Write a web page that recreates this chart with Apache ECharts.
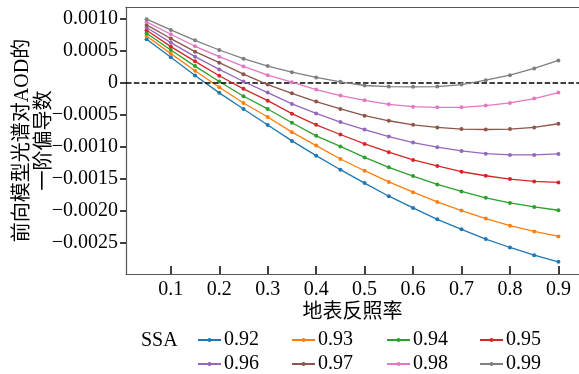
<!DOCTYPE html>
<html>
<head>
<meta charset="utf-8">
<script src="https://cdn.jsdelivr.net/npm/echarts@6/dist/echarts.min.js"></script>
<style>
  html, body { margin: 0; padding: 0; background: #fff; }
  #chart { width: 579px; height: 374px; }
</style>
</head>
<body>
<div id="chart"></div>
<script>
// surface albedo (x) and first derivative of forward model spectrum w.r.t. AOD, per SSA
const albedo = [0.05, 0.1, 0.15, 0.2, 0.25, 0.3, 0.35, 0.4, 0.45, 0.5, 0.55, 0.6, 0.65, 0.7, 0.75, 0.8, 0.85, 0.9];

const ssa092 = [0.000685, 0.000402, 0.000118, -0.000154, -0.000406, -0.000658, -0.000906, -0.001137, -0.001357, -0.001567, -0.001772, -0.001956, -0.002134, -0.002291, -0.002444, -0.002575, -0.002696, -0.0028];
const ssa093 = [0.000737, 0.00046, 0.000192, -0.000066, -0.000312, -0.000532, -0.000769, -0.00098, -0.001189, -0.001373, -0.001548, -0.001709, -0.001861, -0.001997, -0.002123, -0.002233, -0.002323, -0.002402];
const ssa094 = [0.00078, 0.000517, 0.000265, 0.000024, -0.000208, -0.000406, -0.000622, -0.000827, -0.000992, -0.001165, -0.00132, -0.001457, -0.001587, -0.001698, -0.001798, -0.001877, -0.00194, -0.001992];
const ssa095 = [0.000827, 0.00057, 0.000339, 0.000113, -0.000091, -0.000276, -0.00048, -0.000654, -0.000806, -0.000953, -0.001083, -0.001205, -0.001299, -0.001389, -0.001452, -0.001504, -0.00154, -0.001556];
const ssa096 = [0.000869, 0.000633, 0.000413, 0.000213, 0.000024, -0.00015, -0.000328, -0.000476, -0.000611, -0.000728, -0.000838, -0.000932, -0.001005, -0.001063, -0.001106, -0.001126, -0.001126, -0.00111];
const ssa097 = [0.00091, 0.000696, 0.000491, 0.000318, 0.000139, -0.000024, -0.000161, -0.000291, -0.000406, -0.000512, -0.000591, -0.000654, -0.000696, -0.000721, -0.000728, -0.000721, -0.000696, -0.000638];
const ssa098 = [0.000957, 0.000764, 0.000575, 0.000413, 0.00026, 0.000123, 0.000013, -0.000102, -0.000197, -0.000271, -0.000334, -0.00037, -0.000381, -0.000381, -0.000354, -0.000312, -0.000244, -0.00015];
const ssa099 = [0.001, 0.000831, 0.000669, 0.000517, 0.000381, 0.000265, 0.00017, 0.000087, 0.000019, -0.000039, -0.000055, -0.00006, -0.000055, -0.000024, 0.000044, 0.000123, 0.000228, 0.000354];

const ssaNames = ['0.92', '0.93', '0.94', '0.95', '0.96', '0.97', '0.98', '0.99'];
const ssaValues = [ssa092, ssa093, ssa094, ssa095, ssa096, ssa097, ssa098, ssa099];

const xTicks = [0.1, 0.2, 0.3, 0.4, 0.5, 0.6, 0.7, 0.8, 0.9];
const yTicks = [-0.0025, -0.002, -0.0015, -0.001, -0.0005, 0, 0.0005, 0.001];

const colors = ['#1f77b4', '#ff7f0e', '#2ca02c', '#d62728', '#9467bd', '#8c564b', '#e377c2', '#7f7f7f'];
const serif = '"Liberation Serif", "Noto Sans CJK SC", serif';
const axisGray = '#555';

const chart = echarts.init(document.getElementById('chart'));

const seriesList = ssaNames.map((name, i) => ({
    name,
    type: 'line',
    data: albedo.map((x, j) => [x, ssaValues[i][j]]),
    symbol: 'circle',
    symbolSize: 4,
    showAllSymbol: true,
    lineStyle: { width: 1.3, color: colors[i] },
    itemStyle: { color: colors[i] },
    emphasis: { disabled: true },
    z: 2 + i
}));

// dashed zero line
seriesList[0].markLine = {
    silent: true,
    symbol: ['none', 'none'],
    label: { show: false },
    lineStyle: { color: '#000', type: [5.5, 2.4], width: 1.6 },
    data: [{ yAxis: 0 }]
};

// legend columns: two rows, four columns
const colLeft = [197, 291, 386, 479];
const legends = colLeft.map((left, c) => ({
    left,
    top: 330,
    height: 60,
    padding: 0,
    orient: 'vertical',
    itemWidth: 23,
    itemHeight: 5,
    itemGap: 4,
    data: [ssaNames[c], ssaNames[c + 4]],
    textStyle: { fontFamily: serif, fontSize: 20, color: '#000', padding: [0, 0, 0, -2] },
    selectedMode: false
}));

const fmtY = v => v === 0 ? '0' : (v < 0 ? '\u2212' : '') + Math.abs(v).toFixed(4);

chart.setOption({
    animation: false,
    color: colors,
    grid: { left: 126, top: 7, right: 0, bottom: 100, containLabel: false, outerBoundsMode: 'none' },
    legend: legends,
    graphic: [{
        type: 'text',
        left: 141,
        top: 331,
        style: { text: 'SSA', font: '20px ' + serif, fill: '#000' }
    }],
    xAxis: [{
        type: 'value',
        min: 0.0075,
        max: 0.9425,
        name: '地表反照率',
        nameLocation: 'middle',
        nameGap: 29,
        nameMoveOverlap: false,
        nameTextStyle: { fontFamily: serif, fontSize: 20, color: '#000' },
        axisLine: { show: true, onZero: false, lineStyle: { color: axisGray, width: 1.2 } },
        axisTick: { show: true, inside: true, length: 8, customValues: xTicks, lineStyle: { color: '#000', width: 1.5 } },
        axisLabel: { customValues: xTicks, margin: 6, fontFamily: serif, fontSize: 20, color: '#000', formatter: v => v.toFixed(1) },
        splitLine: { show: false }
    }, {
        type: 'value',
        position: 'top',
        min: 0.0075,
        max: 0.9425,
        axisLine: { show: true, onZero: false, lineStyle: { color: axisGray, width: 1.2 } },
        axisTick: { show: false },
        axisLabel: { show: false },
        splitLine: { show: false }
    }],
    yAxis: {
        type: 'value',
        min: -0.00299,
        max: 0.00119,
        name: '前向模型光谱对AOD的\n一阶偏导数',
        nameLocation: 'middle',
        nameRotate: 90,
        nameGap: 70,
        nameMoveOverlap: false,
        nameTextStyle: { fontFamily: serif, fontSize: 20, color: '#000', lineHeight: 22, align: 'center' },
        axisLine: { show: true, onZero: false, lineStyle: { color: axisGray, width: 1.2 } },
        axisTick: { show: true, inside: false, length: 6, customValues: yTicks, lineStyle: { color: '#000', width: 1.5 } },
        axisLabel: { customValues: yTicks, margin: 8, fontFamily: serif, fontSize: 20, color: '#000', formatter: fmtY },
        splitLine: { show: false }
    },
    series: seriesList
});
</script>
</body>
</html>
